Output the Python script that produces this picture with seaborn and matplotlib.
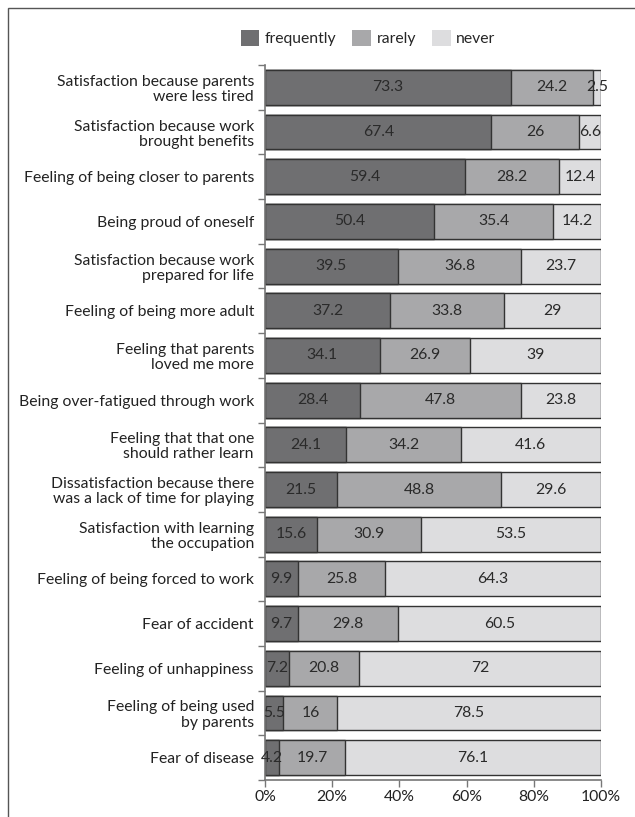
import numpy as np
import pandas as pd
import seaborn as sns
import matplotlib.pyplot as plt
from matplotlib.patches import Patch, Rectangle

# Dados do gráfico
categorias = [
    "Satisfaction because parents\nwere less tired",
    "Satisfaction because work\nbrought benefits",
    "Feeling of being closer to parents",
    "Being proud of oneself",
    "Satisfaction because work\nprepared for life",
    "Feeling of being more adult",
    "Feeling that parents\nloved me more",
    "Being over-fatigued through work",
    "Feeling that that one\nshould rather learn",
    "Dissatisfaction because there\nwas a lack of time for playing",
    "Satisfaction with learning\nthe occupation",
    "Feeling of being forced to work",
    "Fear of accident",
    "Feeling of unhappiness",
    "Feeling of being used\nby parents",
    "Fear of disease",
]
frequently = [73.3, 67.4, 59.4, 50.4, 39.5, 37.2, 34.1, 28.4, 24.1, 21.5, 15.6, 9.9, 9.7, 7.2, 5.5, 4.2]
rarely = [24.2, 26, 28.2, 35.4, 36.8, 33.8, 26.9, 47.8, 34.2, 48.8, 30.9, 25.8, 29.8, 20.8, 16, 19.7]
never = [2.5, 6.6, 12.4, 14.2, 23.7, 29, 39, 23.8, 41.6, 29.6, 53.5, 64.3, 60.5, 72, 78.5, 76.1]
series = ["frequently", "rarely", "never"]
cores = ["#6f6f71", "#a8a8aa", "#dddddf"]

df = pd.DataFrame({"cat": categorias, "frequently": frequently, "rarely": rarely, "never": never})
df["c1"] = df["frequently"]
df["c2"] = df["c1"] + df["rarely"]
df["c3"] = df["c2"] + df["never"]

sns.set_style("white")
plt.rcParams["font.family"] = ["Lato", "DejaVu Sans"]
fs = 11.3

fig = plt.figure(figsize=(6.35, 8.17), dpi=100)
ax = fig.add_axes([265 / 635, 37 / 817, 336 / 635, (780 - 65) / 817])

# barras empilhadas: desenha as somas acumuladas da maior para a menor
for col, cor in zip(["c3", "c2", "c1"], cores[::-1]):
    sns.barplot(data=df, x=col, y="cat", color=cor, width=0.78, edgecolor="#333333",
                linewidth=1.0, saturation=1, ax=ax, orient="h")

# rótulos no centro de cada segmento
for i in range(len(df)):
    inicio = 0
    for s in series:
        v = df.loc[i, s]
        ax.text(inicio + v / 2, i, f"{v:g}", ha="center", va="center", fontsize=fs, color="#2a2a2a")
        inicio += v

ax.set_xlim(0, 100)
ax.set_ylim(15.5, -0.5)
ax.set_xlabel("")
ax.set_ylabel("")
ax.set_xticks(np.arange(0, 101, 20))
ax.set_xticklabels([f"{t}%" for t in range(0, 101, 20)], fontsize=fs, color="#222222")
ax.set_yticks(range(len(categorias)))
ax.set_yticklabels(categorias, fontsize=fs, color="#222222", linespacing=1.1)
ax.set_yticks(np.arange(-0.5, 16, 1), minor=True)
ax.tick_params(axis="y", which="major", length=0, pad=8)
ax.tick_params(axis="y", which="minor", length=5, color="#777777", width=1, direction="out", left=True)
ax.tick_params(axis="x", length=5, color="#777777", width=1, direction="out", bottom=True, pad=2)
for lado in ["top", "right"]:
    ax.spines[lado].set_visible(False)
for lado in ["left", "bottom"]:
    ax.spines[lado].set_color("#777777")
    ax.spines[lado].set_linewidth(1.2)

handles = [Patch(facecolor=c, edgecolor="none") for c in cores]
fig.legend(handles, series, loc="center", bbox_to_anchor=(368 / 635, 1 - 38 / 817), ncol=3,
           frameon=False, fontsize=fs, handlelength=1.2, handleheight=1.2, columnspacing=1.0,
           handletextpad=0.35)

# moldura da figura
fig.patches.append(Rectangle((8 / 635, -0.01), 1.2, 1 - 8 / 817 + 0.01, transform=fig.transFigure,
                             fill=False, edgecolor="#555555", linewidth=1))

plt.savefig("out.png", dpi=100)
